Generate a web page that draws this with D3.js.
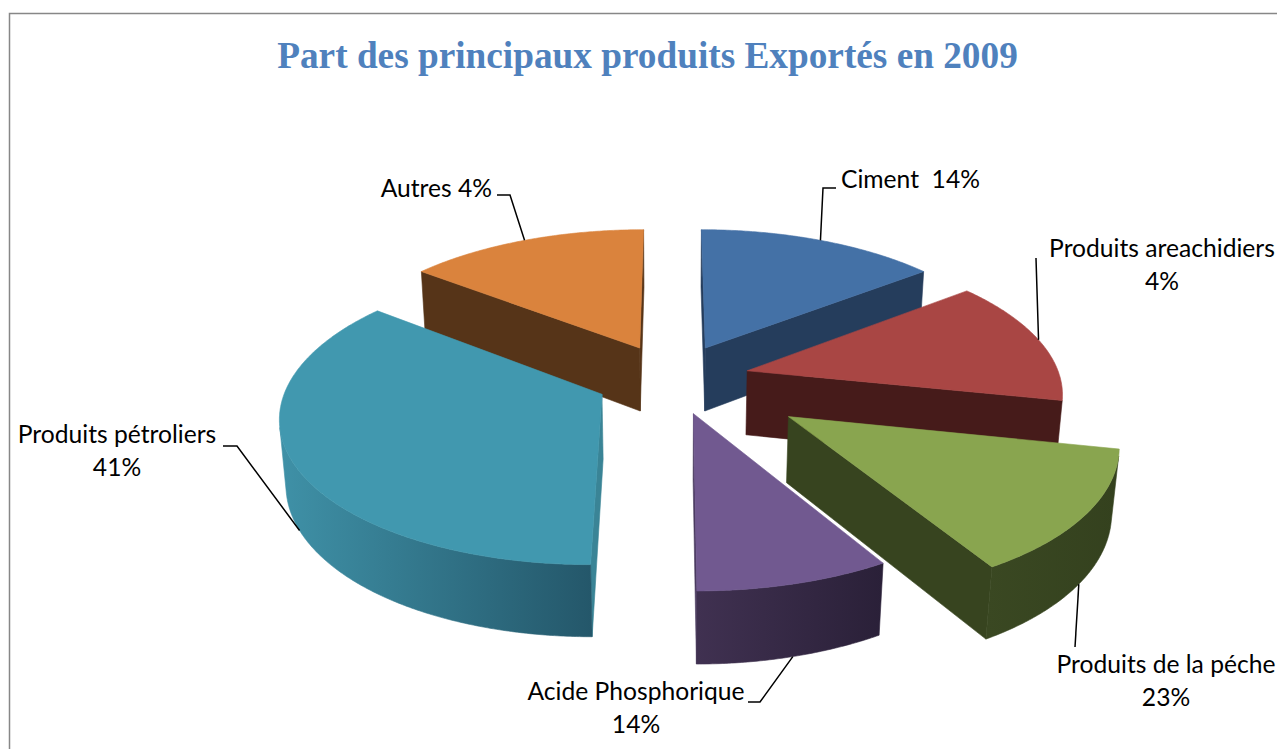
<!DOCTYPE html>
<html><head><meta charset="utf-8">
<script src="https://cdn.jsdelivr.net/npm/d3@7"></script>
<style>body{margin:0;background:#fff;} svg{display:block;}</style>
</head><body>
<svg id="c" width="1277" height="749"></svg>
<script>
// ---- data ----
const title = "Part des principaux produits Exportés en 2009";
const categories = ["Ciment","Produits areachidiers","Produits de la péche","Acide Phosphorique","Produits pétroliers","Autres"];
const sliceShares = [14.4, 13.9, 13.25, 8.45, 35.6, 14.4];      // drawn slice sizes (%)
const labelPercents = ["14%","4%","23%","14%","41%","4%"];      // printed label values
const labelLines = [["Ciment  14%"],["Produits areachidiers","4%"],["Produits de la péche","23%"],["Acide Phosphorique","14%"],["Produits pétroliers","41%"],["Autres 4%"]];

// ---- styles / layout ----
const explode = [0.2466,0.2466,0.44,0.2466,0.2466,0.2466];
const topColors = ["#4471A6","#A94644","#89A54F","#715990","#4198AF","#DA833D"];
const sideColors = [["#253D5C","#253D5C"],["#4C1D1D","#441A1A"],["#3A4822","#34411E"],["#403151","#2A2038"],["#3F91A7","#24576A"],["#583519","#523017"]];
const cutColors = ["#253D5C","#461B1A","#37441F","#4A3A60","#3A8496","#563418"];
const labelPos = [{x:841,y:188,a:"start"},{x:1162,y:257,a:"middle"},{x:1166,y:673,a:"middle"},{x:636,y:700,a:"middle"},{x:117,y:443,a:"middle"},{x:492,y:197,a:"end"}];
const leaderPts = [[[836,188],[823,188]],[[1036,258]],[[1075,647]],[[748,702],[760,702]],[[223,446],[237,446]],[[497,195],[510,195]]];

const cam = {cx:672.5, cy:378.7, f:2036, D:6.5, phi:27.03*Math.PI/180, H:0.2344};
const sn = Math.sin(cam.phi), cs = Math.cos(cam.phi);
function project(x,y,z){ const d = cam.D - (y*sn + z*cs); return [cam.cx + cam.f*x/d, cam.cy - cam.f*(y*cs - z*sn)/d]; }
function facing(px,pz,nx,nz){ return (0-px)*nx + (cam.D*cs - pz)*nz > 0; }

const svg = d3.select("#c");
const defs = svg.append("defs");
svg.append("rect").attr("x",9.5).attr("y",13.5).attr("width",1400).attr("height",900)
  .attr("fill","none").attr("stroke","#878787").attr("stroke-width",1.5);

// title
const t = svg.append("text").attr("x",647.5).attr("y",68).attr("text-anchor","middle")
  .attr("font-family","'Liberation Serif','Times New Roman',serif").attr("font-weight","bold")
  .attr("fill","#4F81BD").attr("font-size",36).text(title);
const tw = t.node().getComputedTextLength();
t.attr("font-size", 36*741/tw);

const pie = d3.pie().sort(null).value(d=>d).startAngle(0).endAngle(2*Math.PI)(sliceShares);
const line = d3.line();
const H = cam.H, step = Math.PI/360;

const slices = pie.map((p,i)=>{
  const mid = (p.startAngle+p.endAngle)/2;
  const ax = explode[i]*Math.sin(mid), az = -explode[i]*Math.cos(mid);
  return {i, a0:p.startAngle, a1:p.endAngle, mid, ax, az, depth: az - 0.6*Math.cos(mid)};
});
const rimW = (s,a)=>[s.ax+Math.sin(a), s.az-Math.cos(a)];
function samples(a0,a1){ const n=Math.max(2,Math.ceil((a1-a0)/step)); return d3.range(n+1).map(k=>a0+(a1-a0)*k/n); }

const g = svg.append("g");
slices.slice().sort((a,b)=>a.depth-b.depth).forEach(s=>{
  const sg = g.append("g");
  // cut faces
  [[s.a0,[-Math.cos(s.a0),-Math.sin(s.a0)]],[s.a1,[Math.cos(s.a1),Math.sin(s.a1)]]].forEach(([a,n])=>{
    const r = rimW(s,a);
    const mx = (s.ax+r[0])/2, mz=(s.az+r[1])/2;
    if(!facing(mx,mz,n[0],n[1])) return;
    const pts=[project(s.ax,0,s.az),project(r[0],0,r[1]),project(r[0],-H,r[1]),project(s.ax,-H,s.az)];
    sg.append("path").attr("d",line(pts)+"Z").attr("fill",cutColors[s.i]).attr("stroke",cutColors[s.i]).attr("stroke-width",0.6);
  });
  // rim side
  const ang = samples(s.a0,s.a1);
  let runs=[],cur=[];
  ang.forEach(a=>{ const r=rimW(s,a); if(facing(r[0],r[1],Math.sin(a),-Math.cos(a))) cur.push(a); else { if(cur.length>1) runs.push(cur); cur=[]; } });
  if(cur.length>1) runs.push(cur);
  runs.forEach((run,k)=>{
    const top = run.map(a=>{const r=rimW(s,a); return project(r[0],0,r[1]);});
    const bot = run.map(a=>{const r=rimW(s,a); return project(r[0],-H,r[1]);}).reverse();
    const pts = top.concat(bot);
    const xs = d3.extent(pts,p=>p[0]);
    const id = "gr"+s.i+"_"+k;
    const lg = defs.append("linearGradient").attr("id",id).attr("gradientUnits","userSpaceOnUse")
      .attr("x1",xs[0]).attr("x2",xs[1]).attr("y1",0).attr("y2",0);
    lg.append("stop").attr("offset","0").attr("stop-color",sideColors[s.i][0]);
    lg.append("stop").attr("offset","1").attr("stop-color",sideColors[s.i][1]);
    sg.append("path").attr("d",line(pts)+"Z").attr("fill",`url(#${id})`).attr("stroke",`url(#${id})`).attr("stroke-width",0.6);
  });
  // top face
  const tp = [project(s.ax,0,s.az)].concat(ang.map(a=>{const r=rimW(s,a); return project(r[0],0,r[1]);}));
  sg.append("path").attr("d",line(tp)+"Z").attr("fill",topColors[s.i]).attr("stroke",topColors[s.i]).attr("stroke-width",0.6);
});

// labels
const lf = "Lato, 'Open Sans', sans-serif";
const probe = svg.append("text").attr("font-family",lf).attr("font-size",22).text("Produits areachidiers");
const fs = 22*226/probe.node().getComputedTextLength();
probe.remove();
slices.forEach(s=>{
  const lp = labelPos[s.i];
  const tx = svg.append("text").attr("font-family",lf).attr("font-size",fs).attr("fill","#000")
    .attr("text-anchor",lp.a).style("white-space","pre");
  labelLines[s.i].forEach((ln,k)=>tx.append("tspan").attr("x",lp.x).attr("y",lp.y+k*33).text(ln));
  // leader anchor on the slice rim (bottom rim when that side faces viewer)
  const r = rimW(s,s.mid);
  const front = facing(r[0],r[1],Math.sin(s.mid),-Math.cos(s.mid));
  const anc = project(r[0], front?-H:0, r[1]);
  svg.append("path").attr("d",line(leaderPts[s.i].concat([anc]))).attr("fill","none")
    .attr("stroke","#000").attr("stroke-width",1.5);
});
</script>
</body></html>
